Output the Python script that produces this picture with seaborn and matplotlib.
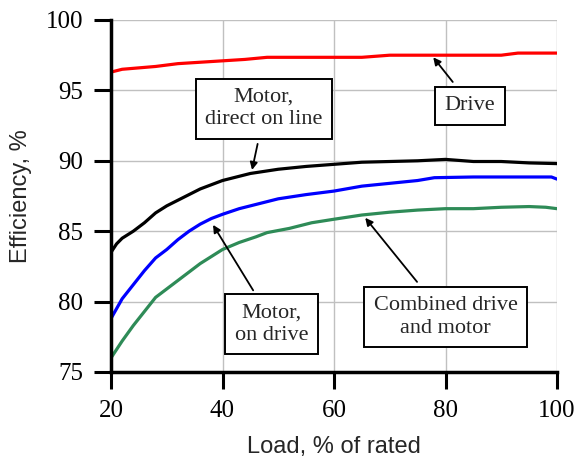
import matplotlib
matplotlib.use("Agg")
import matplotlib.pyplot as plt
import seaborn as sns
import pandas as pd

# ---- data ----
drive_x = [20, 22, 25, 28, 32, 36, 40, 44, 48, 55, 60, 65, 70, 75, 80, 85, 90, 93, 100]
drive_y = [96.3, 96.5, 96.6, 96.7, 96.9, 97.0, 97.1, 97.2, 97.35, 97.35, 97.35, 97.35, 97.5, 97.5, 97.5, 97.5, 97.5, 97.65, 97.65]

dol_x = [20, 21, 22, 24, 26, 28, 30, 32, 34, 36, 38, 40, 42, 45, 50, 55, 60, 65, 70, 75, 80, 85, 90, 95, 100]
dol_y = [83.5, 84.1, 84.5, 85.0, 85.6, 86.3, 86.8, 87.2, 87.6, 88.0, 88.3, 88.6, 88.8, 89.1, 89.4, 89.6, 89.75, 89.9, 89.95, 90.0, 90.1, 89.95, 89.95, 89.85, 89.8]

ondrive_x = [20, 22, 24, 26, 28, 30, 32, 34, 36, 38, 40, 43, 46, 50, 55, 60, 65, 70, 75, 78, 85, 90, 95, 99, 100]
ondrive_y = [78.8, 80.2, 81.2, 82.2, 83.1, 83.7, 84.4, 85.0, 85.5, 85.9, 86.2, 86.6, 86.9, 87.3, 87.6, 87.85, 88.2, 88.4, 88.6, 88.8, 88.85, 88.85, 88.85, 88.85, 88.7]

comb_x = [20, 22, 24, 26, 28, 30, 32, 34, 36, 38, 40, 43, 46, 48, 52, 56, 60, 65, 70, 75, 80, 85, 90, 95, 98, 100]
comb_y = [76.0, 77.2, 78.3, 79.3, 80.3, 80.9, 81.5, 82.1, 82.7, 83.2, 83.7, 84.2, 84.6, 84.9, 85.2, 85.6, 85.85, 86.15, 86.35, 86.5, 86.6, 86.6, 86.7, 86.75, 86.7, 86.6]

series_names = ["Drive", "Motor, direct on line", "Motor, on drive", "Combined drive and motor"]
series_colors = ["#ff0000", "#000000", "#0000ff", "#2e8b57"]

x_ticks = [20, 40, 60, 80, 100]
y_ticks = [75, 80, 85, 90, 95, 100]

frames = []
for name, xs, ys in zip(series_names, [drive_x, dol_x, ondrive_x, comb_x], [drive_y, dol_y, ondrive_y, comb_y]):
    frames.append(pd.DataFrame({"load": xs, "eff": ys, "series": name}))
df = pd.concat(frames, ignore_index=True)

# ---- plot ----
sns.set_theme(style="whitegrid")
plt.rcParams["font.family"] = ["Liberation Serif", "DejaVu Serif"]

fig = plt.figure(figsize=(5.81, 4.70), dpi=100)
ax = fig.add_axes([111 / 581, 1 - 372 / 470, (557 - 111) / 581, (372 - 20) / 470])

sns.lineplot(data=df, x="load", y="eff", hue="series", palette=dict(zip(series_names, series_colors)),
             hue_order=series_names, linewidth=2.3, legend=False, ax=ax, sort=False)

ax.set_xlim(20, 100)
ax.set_ylim(75, 100)
ax.set_xticks(x_ticks)
ax.set_yticks(y_ticks)
ax.grid(True, color="#c0c0c0", linewidth=1.0)
ax.set_facecolor("white")
for s in ["top", "right"]:
    ax.spines[s].set_visible(False)
for s in ["left", "bottom"]:
    ax.spines[s].set_visible(True)
    ax.spines[s].set_color("black")
    ax.spines[s].set_linewidth(2.5)
ax.tick_params(axis="both", direction="out", length=12, width=2.2, color="black",
               labelsize=18, labelcolor="black", pad=8, left=True, bottom=True)

ax.set_xlabel("Load, % of rated", fontsize=17, family="Liberation Sans", labelpad=10)
ax.set_ylabel("Efficiency, %", fontsize=17, family="Liberation Sans", labelpad=10)

box = dict(boxstyle="square,pad=0.42", fc="white", ec="black", lw=1.4)
arrow = dict(arrowstyle="-|>", color="black", lw=1.3, mutation_scale=11, shrinkA=0, shrinkB=0)
fs = 16

ax.annotate("", xy=(45.3, 89.35), xytext=(46.3, 91.2), arrowprops=arrow)
ax.text(47.4, 93.7, "Motor,\ndirect on line", ha="center", va="center", fontsize=fs, bbox=box, linespacing=1.25)

ax.annotate("", xy=(77.8, 97.35), xytext=(81.3, 95.6), arrowprops=arrow)
ax.text(84.4, 93.9, "Drive", ha="center", va="center", fontsize=fs, bbox=box)

ax.annotate("", xy=(38.3, 85.45), xytext=(45.5, 80.8), arrowprops=arrow)
ax.text(48.8, 78.4, "Motor,\non drive", ha="center", va="center", fontsize=fs, bbox=box, linespacing=1.25)

ax.annotate("", xy=(65.6, 85.95), xytext=(74.9, 81.4), arrowprops=arrow)
ax.text(80.0, 78.9, "Combined drive\nand motor", ha="center", va="center", fontsize=fs, bbox=box, linespacing=1.25)

fig.savefig("out.png", dpi=100, facecolor="white")
